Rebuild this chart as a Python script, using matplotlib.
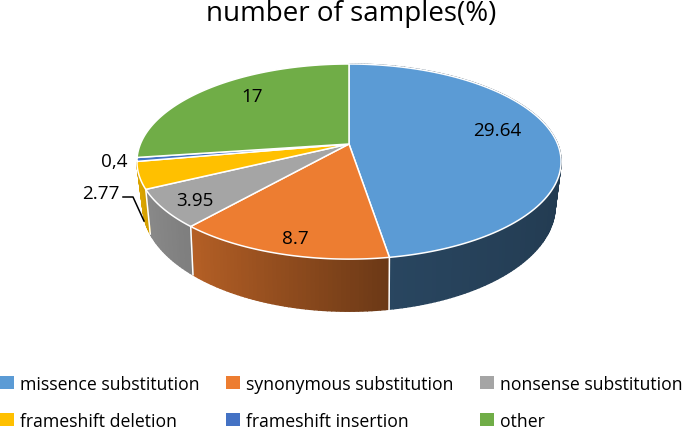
import numpy as np
import matplotlib
matplotlib.use('Agg')
import matplotlib.pyplot as plt
from matplotlib.patches import Patch
from matplotlib.colors import to_rgb

# data
labels = ['missence substitution', 'synonymous substitution', 'nonsense substitution',
          'frameshift deletion', 'frameshift insertion', 'other']
values = [29.64, 8.7, 3.95, 2.77, 0.4, 17]
value_text = ['29.64', '8.7', '3.95', '2.77', '0,4', '17']
colors = ['#5B9BD5', '#ED7D31', '#A5A5A5', '#FFC000', '#4472C4', '#70AD47']
label_xy = [(497, 131), (295, 239), (195, 201), (101, 194), (114, 162), (252, 97)]

plt.rcParams['font.family'] = ['Open Sans', 'DejaVu Sans']


# projected circle, the pie is tilted so the front looks bigger
def rim(theta, cy, rx, ry, k):
    u = np.sin(theta)
    v = np.cos(theta)
    w = 1 + k * v
    return 349 + rx * u / w, cy - ry * v / w


fig = plt.figure(figsize=(6.85, 4.31), dpi=100)
ax = fig.add_axes([0, 0, 1, 1])
ax.set_xlim(0, 685)
ax.set_ylim(431, 0)
ax.axis('off')

edges = 2 * np.pi * np.concatenate([[0], np.cumsum(values)]) / np.sum(values)

# side wall, darker to the right (last two slices are at the back, not visible)
for i, c in enumerate(colors[:4]):
    t = np.linspace(edges[i], edges[i + 1], max(3, int(np.degrees(edges[i + 1] - edges[i])) + 1))
    for a, b in zip(t[:-1], t[1:]):
        x1, y1 = rim(np.array([a, b]), 145, 208.6, 94.4, 0.18)
        x2, y2 = rim(np.array([b, a]), 186, 202, 101, 0.2)
        shade = np.interp(np.sin((a + b) / 2), [-1, -0.65, 0.16, 1], [0.86, 0.76, 0.45, 0.38])
        col = np.array(to_rgb(c)) * shade
        ax.fill(np.r_[x1, x2], np.r_[y1, y2], color=col, lw=1.0, zorder=1)
    # white seam where two slices meet, only on the visible front
    x1, y1 = rim(edges[i], 145, 208.6, 94.4, 0.18)
    x2, y2 = rim(edges[i], 186, 202, 101, 0.2)
    if np.pi / 2 < edges[i] < 1.4 * np.pi:
        ax.plot([x1, x2], [y1, y2], color='white', lw=1.1, zorder=2)

# top face
for i, c in enumerate(colors):
    t = np.linspace(edges[i], edges[i + 1], 120)
    x, y = rim(t, 145, 208.6, 94.4, 0.18)
    ax.fill(np.r_[349, x], np.r_[145, y], facecolor=c, edgecolor='white', lw=1.1,
            joinstyle='round', zorder=3)

for txt, (x, y) in zip(value_text, label_xy):
    ax.text(x, y, txt, fontsize=13.6, color='black', ha='center', va='center', zorder=5)

# leader line for the 2.77 label
ax.plot([123, 133, 144], [198, 198, 222], color='black', lw=1.1, zorder=5)

ax.text(351, 14, 'number of samples(%)', fontsize=20, color='black', ha='center', va='center')

handles = [Patch(facecolor=c, edgecolor='none') for c in colors]
ordered = [handles[0], handles[3], handles[1], handles[4], handles[2], handles[5]]
ordered_labels = [labels[0], labels[3], labels[1], labels[4], labels[2], labels[5]]
ax.legend(ordered, ordered_labels, ncol=3, frameon=False, fontsize=12.7,
          loc='lower left', bbox_to_anchor=(0, 0), borderpad=0, borderaxespad=0,
          handlelength=0.78, handleheight=0.78, handletextpad=0.36,
          columnspacing=1.5, labelspacing=1.08)

fig.savefig('out.png', dpi=100)
